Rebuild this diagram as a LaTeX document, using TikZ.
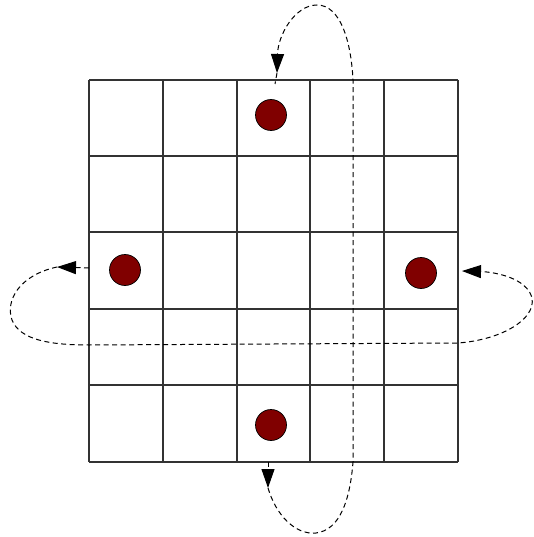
\documentclass[tikz,border=0pt]{standalone}
\usetikzlibrary{arrows.meta}
\definecolor{dotred}{HTML}{800000}
\tikzset{
  gridline/.style={draw=black!80, line width=1.9pt},
  token/.style={circle, fill=dotred, draw=black, line width=0.7pt, minimum size=31pt, inner sep=0pt},
  loopline/.style={draw=black, line width=1pt, dash pattern=on 5pt off 3.5pt},
  tip/.style={-{Triangle[length=19pt,width=13pt]}}
}
\begin{document}
\begin{tikzpicture}[x=1pt,y=-1pt]
\useasboundingbox (0,0) rectangle (534,537);
% grid
\foreach \gx in {89,163,237,310,384,458} {
  \draw[gridline] (\gx,80) -- (\gx,462);
}
\foreach \gy in {80,156,232,309,385,462} {
  \draw[gridline] (89,\gy) -- (458,\gy);
}
% tokens
\node[token] (top) at (271,115) {};
\node[token] (left) at (125,270) {};
\node[token] (right) at (421,273) {};
\node[token] (bottom) at (271,425) {};
% coordinates
\coordinate (ttip) at (277,73);
\coordinate (btop) at (268,462);
\coordinate (btip) at (268,488);
\coordinate (lstart) at (89,268);
\coordinate (ltip) at (57,267);
\coordinate (rtip) at (462,271);
% vertical wrap
\draw[loopline, tip] (btop) -- (btip);
\draw[loopline, tip] (btip) .. controls (276,515) and (295,535) .. (316,533)
  .. controls (340,530) and (350,500) .. (353,462) -- (353,80)
  .. controls (351,40) and (340,5) .. (317,5)
  .. controls (295,5) and (278,35) .. (ttip);
\draw[loopline] (ttip) -- (275,84);
% horizontal wrap
\draw[loopline, tip] (lstart) -- (ltip);
\draw[loopline, tip] (ltip) .. controls (20,275) and (5,300) .. (12,320)
  .. controls (20,340) and (50,345) .. (89,345) -- (458,343)
  .. controls (500,340) and (536,320) .. (532,298)
  .. controls (527,278) and (495,272) .. (rtip);
\end{tikzpicture}
\end{document}
